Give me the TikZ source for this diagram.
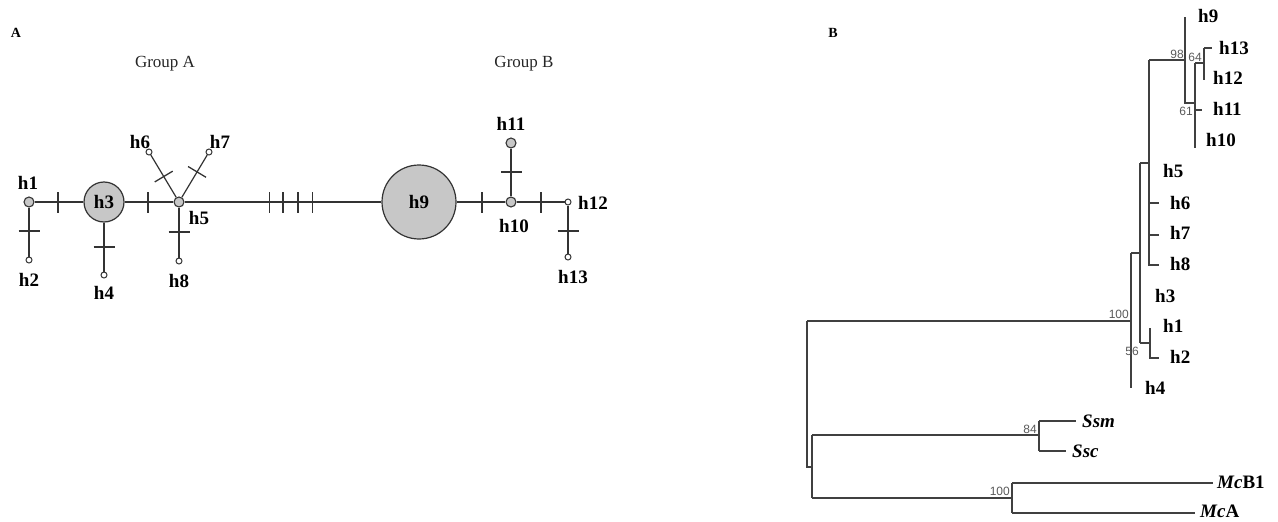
\documentclass[tikz,border=0pt]{standalone}
\usepackage{fontspec}
\setmainfont{Liberation Serif}
\newfontfamily\bsfont{Liberation Sans}
\newcommand\tkbar{\rule[-10.5pt]{1.3pt}{21pt}}
\begin{document}
\begin{tikzpicture}[x=1pt,y=-1pt,
  lab/.style={font=\fontsize{19}{19}\selectfont\bfseries, inner sep=0pt},
  tip/.style={lab, anchor=west},
  itip/.style={font=\fontsize{19}{19}\selectfont\bfseries\itshape, inner sep=0pt, anchor=west},
  ln/.style={draw=black!80, line width=1.2pt},
  big/.style={circle, draw=black!80, line width=1.2pt, fill=black!22, inner sep=0pt},
  mid/.style={circle, draw=black!80, line width=1.1pt, fill=black!22, minimum size=10pt, inner sep=0pt},
  tiny/.style={circle, draw=black!80, line width=1pt, fill=white, minimum size=6pt, inner sep=0pt},
  tk/.style={sloped, inner sep=0pt, text=black!80},
  tr/.style={draw=black!75, line width=1.1pt},
  bs/.style={font=\bsfont\fontsize{12}{12}\selectfont, text=black!65, inner sep=0pt},
  grp/.style={font=\fontsize{17}{17}\selectfont, text=black!85, inner sep=0pt},
  pan/.style={font=\fontsize{14}{14}\selectfont\bfseries, inner sep=0pt}
]
\useasboundingbox (0,0) rectangle (1278,522);

% ---------------- Panel A ----------------
\node[pan] (pA) at (16,33) {A};
\node[grp] (gA) at (165,64) {Group A};
\node[grp] (gB) at (524,64) {Group B};

\node[mid] (h1) at (29,202) {};
\node[big, minimum size=40pt, font=\fontsize{19}{19}\selectfont\bfseries] (h3) at (104,202) {h3};
\node[mid] (h5) at (179,202) {};
\node[big, minimum size=74pt, font=\fontsize{19}{19}\selectfont\bfseries] (h9) at (419,202) {h9};
\node[mid] (h10) at (511,202) {};
\node[mid] (h11) at (511,143) {};
\node[tiny] (h12) at (568,202) {};
\node[tiny] (h13) at (568,257) {};
\node[tiny] (h2) at (29,260) {};
\node[tiny] (h4) at (104,275) {};
\node[tiny] (h8) at (179,261) {};
\node[tiny] (h6) at (149,152) {};
\node[tiny] (h7) at (209,152) {};

\draw[ln] (h1) -- node[tk,pos=0.48]{\tkbar} (h3);
\draw[ln] (h3) -- node[tk,pos=0.48]{\tkbar} (h5);
\draw[ln] (h5) -- node[tk,pos=0.43]{\tkbar} node[tk,pos=0.5]{\tkbar} node[tk,pos=0.576]{\tkbar} node[tk,pos=0.65]{\tkbar} (h9);
\draw[ln] (h9) -- node[tk,pos=0.52]{\tkbar} (h10);
\draw[ln] (h10) -- node[tk,pos=0.51]{\tkbar} (h12);
\draw[ln] (h10) -- node[tk,pos=0.51]{\tkbar} (h11);
\draw[ln] (h12) -- node[tk,pos=0.53]{\tkbar} (h13);
\draw[ln] (h1) -- node[tk,pos=0.48]{\tkbar} (h2);
\draw[ln] (h3) -- node[tk,pos=0.5]{\tkbar} (h4);
\draw[ln] (h5) -- node[tk,pos=0.49]{\tkbar} (h8);
\draw[ln] (h5) -- node[tk,pos=0.49]{\tkbar} (h6);
\draw[ln] (h5) -- node[tk,pos=0.6]{\tkbar} (h7);

\node[lab] (l1) at (28,183) {h1};
\node[lab] (l2) at (29,280) {h2};
\node[lab] (l4) at (104,293) {h4};
\node[lab] (l5) at (199,218) {h5};
\node[lab] (l6) at (140,142) {h6};
\node[lab] (l7) at (220,142) {h7};
\node[lab] (l8) at (179,281) {h8};
\node[lab] (l10) at (514,226) {h10};
\node[lab] (l11) at (511,124) {h11};
\node[lab] (l12) at (593,203) {h12};
\node[lab] (l13) at (573,277) {h13};

% ---------------- Panel B ----------------
\node[pan] (pB) at (833,33) {B};

% root and outgroups
\draw[tr] (807,321) -- (807,467) -- (812,467);
\draw[tr] (812,435) -- (812,498);
\draw[tr] (807,321) -- (1131,321);
\draw[tr] (812,435) -- (1039,435);
\draw[tr] (1039,421) -- (1039,451);
\draw[tr] (1039,421) -- (1076,421);
\draw[tr] (1039,451) -- (1066,451);
\draw[tr] (812,498) -- (1012,498);
\draw[tr] (1012,483) -- (1012,513);
\draw[tr] (1012,483) -- (1213,483);
\draw[tr] (1012,513) -- (1195,513);

% ingroup
\draw[tr] (1131,253) -- (1131,388);
\draw[tr] (1131,253) -- (1140,253);
\draw[tr] (1140,163) -- (1140,343);
\draw[tr] (1140,343) -- (1150,343);
\draw[tr] (1150,328) -- (1150,358) -- (1159,358);
\draw[tr] (1140,163) -- (1149,163);
\draw[tr] (1149,60) -- (1149,265) -- (1159,265);
\draw[tr] (1149,203) -- (1159,203);
\draw[tr] (1149,235) -- (1159,235);
\draw[tr] (1149,60) -- (1185,60);
\draw[tr] (1185,17) -- (1185,103) -- (1195,103);
\draw[tr] (1195,63) -- (1195,148);
\draw[tr] (1195,110) -- (1202,110);
\draw[tr] (1195,63) -- (1204,63);
\draw[tr] (1204,48) -- (1204,80);
\draw[tr] (1204,48) -- (1212,48);

% tip labels
\node[tip] (t9) at (1198,16) {h9};
\node[tip] (t13) at (1219,48) {h13};
\node[tip] (t12) at (1213,78) {h12};
\node[tip] (t11) at (1213,109) {h11};
\node[tip] (t10) at (1206,140) {h10};
\node[tip] (t5) at (1163,171) {h5};
\node[tip] (t6) at (1170,203) {h6};
\node[tip] (t7) at (1170,233) {h7};
\node[tip] (t8) at (1170,264) {h8};
\node[tip] (t3) at (1155,296) {h3};
\node[tip] (t1) at (1163,326) {h1};
\node[tip] (t2) at (1170,357) {h2};
\node[tip] (t4) at (1145,388) {h4};
\node[itip] (tsm) at (1082,421) {Ssm};
\node[itip] (tsc) at (1072,451) {Ssc};
\node[tip] (tb1) at (1217,482) {\itshape Mc\upshape B1};
\node[tip] (ta) at (1200,511) {\itshape Mc\upshape A};

% bootstrap values
\node[bs, anchor=east] (b98) at (1184,54) {98};
\node[bs] (b64) at (1195,57) {64};
\node[bs, anchor=east] (b61) at (1193,111) {61};
\node[bs, anchor=east] (b100a) at (1129,314) {100};
\node[bs, anchor=east] (b56) at (1139,351) {56};
\node[bs, anchor=east] (b84) at (1037,429) {84};
\node[bs, anchor=east] (b100b) at (1010,491) {100};
\end{tikzpicture}
\end{document}
